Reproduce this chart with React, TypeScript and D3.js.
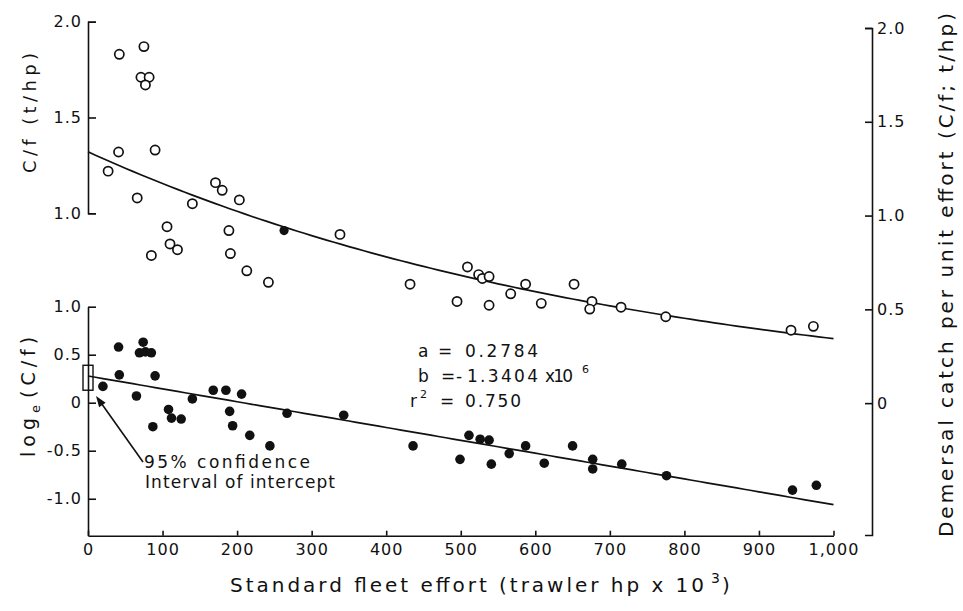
import * as d3 from 'd3'
import { useEffect, useRef } from 'react'

const W = 963
const H = 611
const FONT = '"DejaVu Sans", Verdana, sans-serif'
const INK = '#111'

// upper panel: C/f (t/hp), open circles
const cpueEffort = [42, 75, 71, 82, 77, 41, 90, 27, 66, 140, 171, 180, 203, 106, 110, 120, 85, 189, 191, 213, 242, 338, 432, 509, 524, 529, 538, 495, 538, 567, 587, 608, 652, 676, 673, 715, 775, 943, 973]
const cpueValue = [1.83, 1.87, 1.71, 1.71, 1.67, 1.32, 1.33, 1.22, 1.08, 1.05, 1.16, 1.12, 1.07, 0.93, 0.84, 0.81, 0.78, 0.91, 0.79, 0.70, 0.64, 0.89, 0.63, 0.72, 0.68, 0.66, 0.67, 0.54, 0.52, 0.58, 0.63, 0.53, 0.63, 0.54, 0.50, 0.51, 0.46, 0.39, 0.41]
// the single filled marker sitting on the upper curve
const cpueMarkEffort = [263]
const cpueMarkValue = [0.91]

// lower panel: log_e(C/f), filled circles
const logEffort = [20, 41, 42, 74, 69, 77, 85, 90, 65, 87, 108, 112, 125, 140, 168, 185, 206, 190, 194, 217, 244, 267, 343, 436, 511, 526, 538, 499, 541, 565, 587, 612, 650, 677, 677, 716, 776, 945, 977]
const logValue = [0.17, 0.58, 0.29, 0.63, 0.52, 0.53, 0.52, 0.28, 0.07, -0.25, -0.07, -0.16, -0.17, 0.04, 0.13, 0.13, 0.09, -0.09, -0.24, -0.34, -0.45, -0.11, -0.13, -0.45, -0.34, -0.38, -0.39, -0.59, -0.64, -0.53, -0.45, -0.63, -0.45, -0.59, -0.69, -0.64, -0.76, -0.91, -0.86]

// regression: log_e(C/f) = a + b f   (f in hp)
const fitA = 0.2784
const fitB = -1.3404e-6
const interceptCI = [0.13, 0.39]

const xTicks = [0, 100, 200, 300, 400, 500, 600, 700, 800, 900, 1000]
const upperTicks = [1.0, 1.5, 2.0]
const lowerTicks = [-1.0, -0.5, 0, 0.5, 1.0]
const rightTicks = [0, 0.5, 1.0, 1.5, 2.0]

const fmt = (d: number) => (d === 0 ? '0' : d < 0 ? '-' + Math.abs(d).toFixed(1) : d.toFixed(1))

export default function App() {
  const svgRef = useRef<SVGSVGElement>(null)

  useEffect(() => {
    if (!svgRef.current) return
    const svg = d3.select(svgRef.current)
    svg.selectAll('*').remove()

    const x = d3.scaleLinear().domain([0, 1000]).range([88, 833.5])
    const yUpper = d3.scaleLinear().domain([1, 2]).range([213.3, 21.7])
    const yLower = d3.scaleLinear().domain([-1.385, 1]).range([535.7, 306.7])
    const yRight = d3.scaleLinear().domain([-0.703, 2]).range([535, 28])

    const styleAxis = (g: d3.Selection<SVGGElement, unknown, null, undefined>) => {
      g.attr('font-size', null).attr('font-family', null)
      g.select('.domain').attr('stroke', INK).attr('stroke-width', 1.6)
      g.selectAll('.tick line').attr('stroke', INK).attr('stroke-width', 1.6)
      g.selectAll('.tick text')
        .attr('fill', INK)
        .attr('font-size', 16)
        .attr('font-family', FONT)
        .attr('letter-spacing', 1)
    }

    // Left upper axis (C/f)
    const gUp = svg.append('g').attr('transform', `translate(${x(0)},0)`)
    gUp.call(d3.axisLeft(yUpper).tickValues(upperTicks).tickSize(-8).tickPadding(6).tickFormat(d => fmt(+d)))
    styleAxis(gUp)

    // Left lower axis (log_e C/f)
    const gLo = svg.append('g').attr('transform', `translate(${x(0)},0)`)
    gLo.call(d3.axisLeft(yLower).tickValues(lowerTicks).tickSize(-8).tickSizeOuter(0).tickPadding(6).tickFormat(d => fmt(+d)))
    styleAxis(gLo)

    // Bottom axis
    const gX = svg.append('g').attr('transform', `translate(0,${yLower(-1.385)})`)
    gX.call(d3.axisBottom(x).tickValues(xTicks).tickSize(-5).tickSizeOuter(0).tickPadding(8)
      .tickFormat(d => (+d === 1000 ? '1,000' : String(d))))
    styleAxis(gX)

    // Right axis
    const gR = svg.append('g').attr('transform', 'translate(872,0)')
    gR.call(d3.axisRight(yRight).tickValues(rightTicks).tickSize(-7).tickPadding(5).tickFormat(d => fmt(+d)))
    styleAxis(gR)

    // Fitted curve / line
    const samples = d3.range(0, 1001, 10)
    const upperLine = d3.line<number>()
      .x(d => x(d))
      .y(d => yUpper(Math.exp(fitA + fitB * d * 1000)))
    const lowerLine = d3.line<number>()
      .x(d => x(d))
      .y(d => yLower(fitA + fitB * d * 1000))
    svg.append('path').attr('d', upperLine(samples)).attr('fill', 'none').attr('stroke', INK).attr('stroke-width', 1.7)
    svg.append('path').attr('d', lowerLine(samples)).attr('fill', 'none').attr('stroke', INK).attr('stroke-width', 1.7)

    // Points
    svg.append('g').selectAll('circle')
      .data(cpueEffort)
      .enter()
      .append('circle')
      .attr('cx', d => x(d))
      .attr('cy', (_, i) => yUpper(cpueValue[i]))
      .attr('r', 4.6)
      .attr('fill', '#fff')
      .attr('stroke', INK)
      .attr('stroke-width', 1.7)

    svg.append('g').selectAll('circle')
      .data(cpueMarkEffort)
      .enter()
      .append('circle')
      .attr('cx', d => x(d))
      .attr('cy', (_, i) => yUpper(cpueMarkValue[i]))
      .attr('r', 4.6)
      .attr('fill', INK)

    svg.append('g').selectAll('circle')
      .data(logEffort)
      .enter()
      .append('circle')
      .attr('cx', d => x(d))
      .attr('cy', (_, i) => yLower(logValue[i]))
      .attr('r', 4.8)
      .attr('fill', INK)

    // Confidence interval box of intercept
    svg.append('rect')
      .attr('x', x(0) - 5)
      .attr('y', yLower(interceptCI[1]))
      .attr('width', 10)
      .attr('height', yLower(interceptCI[0]) - yLower(interceptCI[1]))
      .attr('fill', 'none')
      .attr('stroke', INK)
      .attr('stroke-width', 1.4)

    // Arrow from label to the box
    const ax0 = 143, ay0 = 462, ax1 = 96, ay1 = 396
    svg.append('line')
      .attr('x1', ax0).attr('y1', ay0).attr('x2', ax1 + 3).attr('y2', ay1 + 4)
      .attr('stroke', INK).attr('stroke-width', 1.6)
    const ang = Math.atan2(ay1 - ay0, ax1 - ax0)
    const hl = 11, hw = 4
    const bx = ax1 - Math.cos(ang) * hl, by = ay1 - Math.sin(ang) * hl
    svg.append('path')
      .attr('d', `M${ax1},${ay1}L${bx + Math.sin(ang) * hw},${by - Math.cos(ang) * hw}L${bx - Math.sin(ang) * hw},${by + Math.cos(ang) * hw}Z`)
      .attr('fill', INK)

    const txt = (sx: number, sy: number, s: string, size: number, len?: number) => {
      const t = svg.append('text')
        .attr('x', sx).attr('y', sy)
        .attr('font-family', FONT).attr('font-size', size).attr('fill', INK)
        .text(s)
      if (len) t.attr('textLength', len).attr('lengthAdjust', 'spacing')
      return t
    }

    txt(144, 468, '95% confidence', 17, 166)
    txt(145, 488, 'Interval of intercept', 17, 190)

    // Regression statistics
    txt(418, 356.7, 'a', 17)
    txt(438, 356.7, '=', 17)
    txt(465, 356.7, '0.2784', 17, 73)
    txt(418, 381.7, 'b', 17)
    txt(441, 381.7, '=', 17)
    txt(456, 381.7, '-', 17)
    txt(467, 381.7, '1.3404', 17, 71)
    txt(545, 381.7, 'x10', 17, 28)
    txt(582, 373, '6', 11)
    txt(410, 406.7, 'r', 17)
    txt(420, 398, '2', 11)
    txt(440, 406.7, '=', 17)
    txt(465, 406.7, '0.750', 17, 56)

    // Axis titles
    svg.append('text')
      .attr('transform', 'translate(36,173) rotate(-90)')
      .attr('font-family', FONT).attr('font-size', 18).attr('fill', INK)
      .attr('textLength', 120).attr('lengthAdjust', 'spacing')
      .text('C/f (t/hp)')

    const lg = svg.append('text')
      .attr('transform', 'translate(35,457) rotate(-90)')
      .attr('font-family', FONT).attr('font-size', 19).attr('fill', INK)
      .attr('letter-spacing', 5)
    lg.append('tspan').text('log')
    lg.append('tspan').attr('font-size', 13).attr('dy', 5).text('e')
    lg.append('tspan').attr('dy', -5).attr('dx', 2).text('(C/f)')

    svg.append('text')
      .attr('transform', 'translate(953,537) rotate(-90)')
      .attr('font-family', FONT).attr('font-size', 20).attr('fill', INK)
      .attr('textLength', 524).attr('lengthAdjust', 'spacing')
      .text('Demersal catch per unit effort (C/f; t/hp)')

    const xl = svg.append('text')
      .attr('x', 230).attr('y', 592)
      .attr('font-family', FONT).attr('font-size', 20).attr('fill', INK)
    xl.append('tspan').attr('textLength', 474).attr('lengthAdjust', 'spacing')
      .text('Standard fleet effort  (trawler hp x 10')
    xl.append('tspan').attr('font-size', 14).attr('dy', -9).attr('dx', 4).text('3')
    xl.append('tspan').attr('dy', 9).attr('dx', 2).text(')')
  }, [])

  return (
    <svg
      ref={svgRef}
      width={W}
      height={H}
      style={{ position: 'absolute', left: 0, top: 0, background: '#fff', display: 'block' }}
    />
  )
}
